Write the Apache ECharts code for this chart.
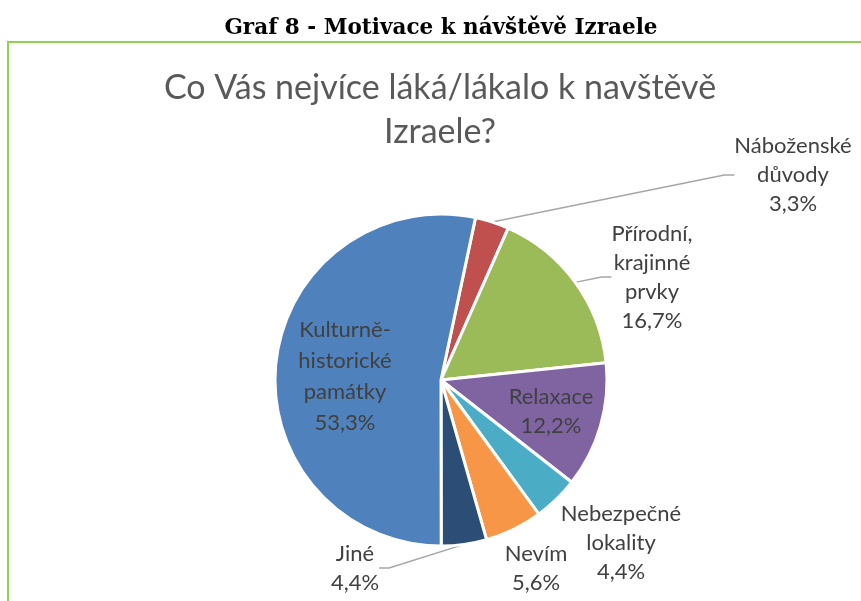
<!DOCTYPE html>
<html>
<head>
<meta charset="utf-8">
<script src="https://cdn.jsdelivr.net/npm/echarts@6/dist/echarts.min.js"></script>
<style>
html,body{margin:0;padding:0;background:#fff;}
#chart{width:861px;height:601px;}
</style>
</head>
<body>
<div id="chart"></div>
<script>
// Data (order clockwise from the first slice)
var categories = ['Náboženské\ndůvody', 'Přírodní,\nkrajinné\nprvky', 'Relaxace', 'Nebezpečné\nlokality', 'Nevím', 'Jiné', 'Kulturně-\nhistorické\npamátky'];
var values = [3.3, 16.7, 12.2, 4.4, 5.6, 4.4, 53.3];
var colors = ['#c0504d', '#9bbb59', '#8064a2', '#4bacc6', '#f79646', '#2c4d75', '#4f81bd'];
var insideLabels = [false, false, true, false, false, false, true];
var showLines = [true, true, false, false, false, true, false];
var heading = 'Graf 8 - Motivace k návštěvě Izraele';
var chartTitle = 'Co Vás nejvíce láká/lákalo k navštěvě\nIzraele?';

// label anchor positions (layout only)
var labelPos = [
  [793, 175], [652, 277], [551, 411], [621, 543], [536, 568], [355, 568], [345, 376]
];

var chart = echarts.init(document.getElementById('chart'), null, {renderer: 'canvas'});

var data = categories.map(function (c, i) {
  return {
    name: c,
    value: values[i],
    itemStyle: {color: colors[i]},
    label: {position: insideLabels[i] ? 'inside' : 'outside', lineHeight: i === 6 ? 31 : 29},
    labelLine: {show: showLines[i]}
  };
});

var option = {
  animation: false,
  graphic: [
    {type: 'text', style: {text: heading, x: 441, y: 28, align: 'center', verticalAlign: 'middle',
      font: 'bold 21.5px "DejaVu Serif"', fill: '#000'}},
    {type: 'text', style: {text: chartTitle, x: 440, y: 110, align: 'center', verticalAlign: 'middle',
      font: '34px Lato', lineHeight: 44, fill: '#595959'}},
    {type: 'line', shape: {x1: 7, y1: 42, x2: 861, y2: 42}, style: {stroke: '#92d050', lineWidth: 2}},
    {type: 'line', shape: {x1: 8, y1: 42, x2: 8, y2: 601}, style: {stroke: '#92d050', lineWidth: 2}}
  ],
  series: [{
    type: 'pie',
    center: [441, 380],
    radius: [0, 166],
    startAngle: 78,
    clockwise: true,
    avoidLabelOverlap: false,
    itemStyle: {borderColor: '#ffffff', borderWidth: 3},
    label: {
      show: true,
      fontFamily: 'Lato',
      fontSize: 22,
      lineHeight: 29,
      color: '#404040',
      align: 'center',
      formatter: function (p) {
        return p.name + '\n' + p.value.toFixed(1).replace('.', ',') + '%';
      }
    },
    labelLine: {lineStyle: {color: '#a6a6a6', width: 1.5}, length: 10, length2: 10, smooth: false},
    labelLayout: function (params) {
      var p = labelPos[params.dataIndex];
      return {x: p[0], y: p[1], align: 'center', verticalAlign: 'middle'};
    },
    data: data
  }]
};
chart.setOption(option);
</script>
</body>
</html>
